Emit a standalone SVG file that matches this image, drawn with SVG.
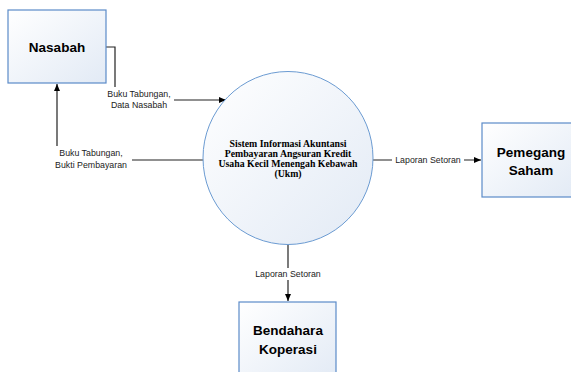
<svg xmlns="http://www.w3.org/2000/svg" width="571" height="372" viewBox="0 0 571 372">
<defs>
<linearGradient id="g" x1="0" y1="0" x2="1" y2="1">
<stop offset="0" stop-color="#ffffff"/>
<stop offset="1" stop-color="#e2eaf5"/>
</linearGradient>
<marker id="ah" markerWidth="8" markerHeight="8" refX="7" refY="4" orient="auto" markerUnits="userSpaceOnUse">
<path d="M0,1 L7,4 L0,7 Z" fill="#000"/>
</marker>
<style>
.box{fill:url(#g);stroke:#5b8bc9;stroke-width:1.2}
.t{font-family:"Liberation Sans",Arial,sans-serif;font-weight:bold;font-size:13.5px;fill:#000;text-anchor:middle}
.p{font-family:"Liberation Serif","Times New Roman",serif;font-weight:bold;font-size:9.8px;fill:#000;text-anchor:middle}
.l{font-family:"Liberation Sans",Arial,sans-serif;font-size:8.8px;fill:#222;text-anchor:middle}
.c{fill:none;stroke:#222;stroke-width:1.2}
.bg{fill:#fff}
</style>
</defs>
<g id="connectors">
<path class="c" d="M106,47 H115 V100 H226" marker-end="url(#ah)"/>
<rect class="bg" x="104" y="87" width="70" height="24"/>
<text class="l" x="139" y="97">Buku Tabungan,</text>
<text class="l" x="139" y="108">Data Nasabah</text>
<path class="c" d="M204,160 H57 V84" marker-end="url(#ah)"/>
<rect class="bg" x="49" y="146" width="83" height="24"/>
<text class="l" x="91" y="156">Buku Tabungan,</text>
<text class="l" x="91" y="168">Bukti Pembayaran</text>
<path class="c" d="M373,160 H481" marker-end="url(#ah)"/>
<rect class="bg" x="392" y="154" width="72" height="12"/>
<text class="l" x="428" y="163">Laporan Setoran</text>
<path class="c" d="M288,245 V301" marker-end="url(#ah)"/>
<rect class="bg" x="250" y="268" width="76" height="12"/>
<text class="l" x="288" y="277">Laporan Setoran</text>
</g>
<g id="nasabah">
<rect class="box" x="8" y="10" width="98" height="73"/>
<text class="t" x="57" y="52">Nasabah</text>
</g>
<g id="proses">
<ellipse class="box" cx="288" cy="158" rx="85" ry="86.5" style="stroke:#6b9bd2;stroke-width:1"/>
<text class="p" x="288" y="147">Sistem Informasi Akuntansi</text>
<text class="p" x="288" y="157">Pembayaran Angsuran Kredit</text>
<text class="p" x="288" y="167">Usaha Kecil Menengah Kebawah</text>
<text class="p" x="288" y="177">(Ukm)</text>
</g>
<g id="pemegang">
<rect class="box" x="482" y="123" width="95" height="74"/>
<text class="t" x="531" y="157">Pemegang</text>
<text class="t" x="531" y="175">Saham</text>
</g>
<g id="bendahara">
<rect class="box" x="239" y="302" width="97" height="80"/>
<text class="t" x="288" y="335">Bendahara</text>
<text class="t" x="288" y="354">Koperasi</text>
</g>
</svg>
